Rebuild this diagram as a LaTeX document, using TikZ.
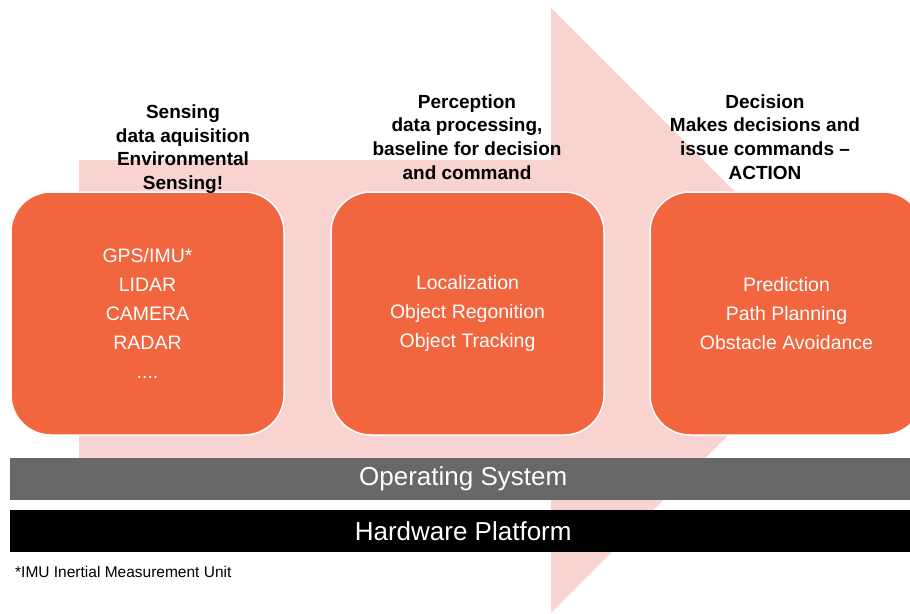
\documentclass[tikz,border=0pt]{standalone}
\usepackage{fontspec}
\setmainfont{Liberation Sans}
\definecolor{flowpink}{HTML}{F9D3CF}
\definecolor{stageorange}{HTML}{F1663F}
\definecolor{osgray}{HTML}{686868}
\begin{document}
\begin{tikzpicture}[x=1pt,y=-1pt,
  stagebox/.style={draw=white, line width=1.5pt, fill=stageorange, rounded corners=40pt,
    minimum width=273pt, minimum height=243pt, align=center, text=white,
    font=\fontsize{19.5}{29}\selectfont},
  heading/.style={align=center, text=black, font=\bfseries\fontsize{19}{23.7}\selectfont},
  layerbar/.style={anchor=north west, minimum width=906pt, minimum height=42pt,
    inner sep=0pt, text=white, font=\fontsize{26}{30}\selectfont}]
\useasboundingbox (0,0) rectangle (910,613);
\clip (0,0) rectangle (910,613);
% broad background arrow running left to right
\fill[flowpink] (79,160) -- (551,160) -- (551,8) -- (853,310) -- (551,613)
  -- (551,460) -- (79,460) -- cycle;
% the three processing stages
\node[stagebox] (sensing) at (147.5,313.5) {GPS/IMU*\\LIDAR\\CAMERA\\RADAR\\....};
\node[stagebox] (perception) at (467.5,313.5) {Localization\\Object Regonition\\Object Tracking};
\node[stagebox] (decision) at (786.5,313.5) {Prediction\\Path Planning\\Obstacle Avoidance};
% stage captions
\node[heading] (senseTitle) at (183,149) {Sensing\\data aquisition\\Environmental\\Sensing!};
\node[heading] (percTitle) at (467,137) {Perception\\data processing,\\baseline for decision\\and command};
\node[heading] (decTitle) at (765,137) {Decision\\Makes decisions and\\issue commands --\\ACTION};
% platform layers
\node[layerbar, fill=osgray] (os) at (10,458) {Operating System};
\node[layerbar, fill=black] (hw) at (10,510) {Hardware Platform};
% footnote
\node[anchor=west, inner sep=0pt, font=\fontsize{15.5}{18}\selectfont] (note) at (15,572)
  {*IMU Inertial Measurement Unit};
\end{tikzpicture}
\end{document}
